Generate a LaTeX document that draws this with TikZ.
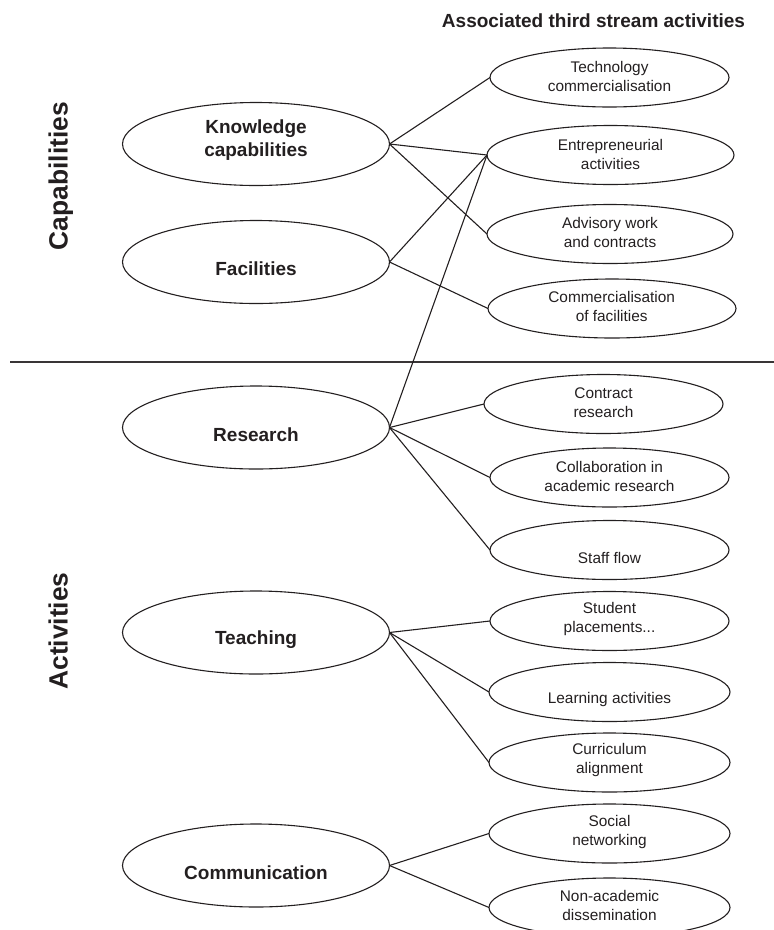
\documentclass[tikz,border=0pt]{standalone}
\usepackage{fontspec}
\setmainfont{Liberation Sans}
\usetikzlibrary{shapes.geometric}
\definecolor{ink}{RGB}{35,31,32}
\begin{document}
\begin{tikzpicture}[x=1pt,y=-1pt,
  every node/.style={inner sep=0pt,outer sep=0pt,text=ink},
  bigell/.style={ellipse,draw=ink,line width=1.1pt,minimum width=267pt,minimum height=83pt},
  smallell/.style={ellipse,draw=ink,line width=1.1pt,minimum width=#1,minimum height=59pt},
  smallell/.default=240pt,
  bigtxt/.style={align=center,font=\bfseries\fontsize{19}{23.3}\selectfont},
  smalltxt/.style={align=center,font=\fontsize{15.4}{19}\selectfont},
  sidetxt/.style={rotate=90,anchor=base,font=\bfseries\fontsize{26.4}{30}\selectfont},
  link/.style={draw=ink,line width=1.1pt},
  rule/.style={draw=ink!90,line width=2.2pt}
]
\useasboundingbox (0,0) rectangle (774,930);

% heading of the right-hand column
\node[bigtxt] (head) at (593.5,21) {Associated third stream activities};

% side labels
\node[sidetxt] (caplab) at (67.5,176) {Capabilities};
\node[sidetxt] (actlab) at (67.5,631) {Activities};

% separator between capabilities and activities
\coordinate (ruleL) at (10,362);
\coordinate (ruleR) at (774,362);
\draw[rule] (ruleL) -- (ruleR);

% left-hand column
\node[bigell] (know) at (256,144) {};
\node[bigtxt] (knowt) at (256,140) {Knowledge\\capabilities};
\node[bigell] (fac) at (256,262) {};
\node[bigtxt] (fact) at (256,269) {Facilities};
\node[bigell] (res) at (256,427.5) {};
\node[bigtxt] (rest) at (256,435) {Research};
\node[bigell] (teach) at (256,632.5) {};
\node[bigtxt] (teacht) at (256,640) {Teaching};
\node[bigell] (comu) at (256,865.5) {};
\node[bigtxt] (comut) at (256,873) {Communication};

% right-hand column
\node[smallell=239pt] (tech) at (609.5,77.5) {};
\node[smalltxt] (techt) at (609.5,76.5) {Technology\\commercialisation};
\node[smallell=247pt] (entr) at (610.5,155) {};
\node[smalltxt] (entrt) at (610.5,154) {Entrepreneurial\\activities};
\node[smallell=246pt] (adv) at (610,234) {};
\node[smalltxt] (advt) at (610,232) {Advisory work\\and contracts};
\node[smallell=248pt] (comm) at (612,308.5) {};
\node[smalltxt] (commt) at (611.7,306.5) {Commercialisation\\of facilities};
\node[smallell=239pt] (contr) at (603.5,404) {};
\node[smalltxt] (contrt) at (603.5,403) {Contract\\research};
\node[smallell=239pt] (collab) at (609.5,477.5) {};
\node[smalltxt] (collabt) at (609.5,476.5) {Collaboration in\\academic research};
\node[smallell=239pt] (staff) at (609.5,550) {};
\node[smalltxt] (stafft) at (609.5,558) {Staff flow};
\node[smallell=239pt] (stud) at (609.5,621) {};
\node[smalltxt] (studt) at (609.5,619.5) {Student\\placements...};
\node[smallell=241pt] (learn) at (609.5,692) {};
\node[smalltxt] (learnt) at (609.5,700) {Learning activities};
\node[smallell=241pt] (curr) at (609.5,762.5) {};
\node[smalltxt] (currt) at (609.5,760.5) {Curriculum\\alignment};
\node[smallell=241pt] (soc) at (609.5,833.5) {};
\node[smalltxt] (soct) at (609.5,832) {Social\\networking};
\node[smallell=241pt] (nonac) at (609.5,907.5) {};
\node[smalltxt] (nonact) at (609.5,905.5) {Non-academic\\dissemination};

% connectors
\draw[link] (know.east) -- (tech.west);
\draw[link] (know.east) -- (entr.west);
\draw[link] (know.east) -- (adv.west);
\draw[link] (fac.east) -- (entr.west);
\draw[link] (fac.east) -- (comm.west);
\draw[link] (res.east) -- (entr.west);
\draw[link] (res.east) -- (contr.west);
\draw[link] (res.east) -- (collab.west);
\draw[link] (res.east) -- (staff.west);
\draw[link] (teach.east) -- (stud.west);
\draw[link] (teach.east) -- (learn.west);
\draw[link] (teach.east) -- (curr.west);
\draw[link] (comu.east) -- (soc.west);
\draw[link] (comu.east) -- (nonac.west);
\end{tikzpicture}
\end{document}
